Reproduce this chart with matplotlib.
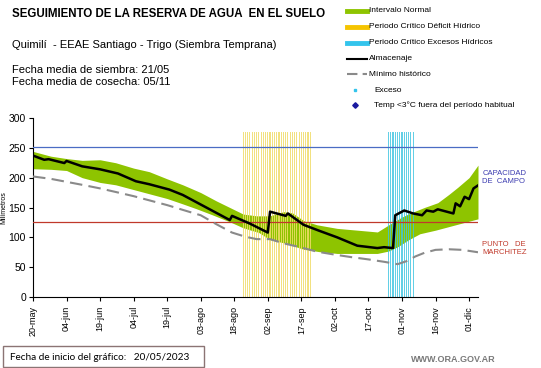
import numpy as np
import pandas as pd
import matplotlib
matplotlib.use("Agg")
import matplotlib.pyplot as plt
from matplotlib.lines import Line2D
from matplotlib.patches import Rectangle

plt.rcParams['font.family'] = ['Liberation Sans', 'DejaVu Sans']

start = pd.Timestamp("2023-05-20")

# almacenaje (dias desde el inicio, mm)
alm_day = [0, 5, 7, 14, 15, 22, 30, 38, 46, 52, 61, 67, 75, 81, 88, 89, 97, 105, 106,
           113, 114, 121, 128, 136, 145, 154, 157, 161, 162, 166, 170, 174, 176, 179,
           181, 188, 189, 191, 193, 195, 197, 199]
alm_val = [237, 230, 231, 224.5, 228, 219, 214, 207, 194, 189, 180, 171, 155, 143, 129, 136,
           123, 108, 143, 136, 140, 121, 111, 100, 86, 82, 83.5, 82, 137, 145, 140, 137, 145,
           143, 147, 140, 157, 152, 168, 164, 182, 187]

# intervalo normal - limite superior
sup_day = [0, 8, 15, 22, 30, 37, 45, 52, 60, 67, 75, 82, 88, 94, 100, 106, 112, 116, 121,
           127, 136, 145, 154, 160, 165, 169, 175, 181, 186, 190, 195, 199]
sup_val = [244, 236, 232, 229, 230, 225, 216, 210, 198, 188, 175, 161, 150, 139, 136, 136,
           143, 141, 128, 121, 115, 112, 109, 123, 134, 141, 150, 158, 172, 184, 200, 221]

# intervalo normal - limite inferior
inf_day = [0, 8, 15, 22, 30, 37, 45, 52, 60, 67, 73, 80, 88, 94, 101, 106, 113, 121, 128,
           136, 145, 154, 159, 163, 168, 173, 180, 186, 192, 199]
inf_val = [215, 214, 212, 200, 192, 188, 180, 173, 165, 156, 148, 138, 126, 116, 108, 96,
           90, 80, 76, 73, 73, 73, 77, 84, 96, 106, 112, 118, 124, 131]

# minimo historico
min_day = [0, 8, 15, 22, 30, 37, 45, 52, 60, 67, 75, 82, 89, 95, 100, 106, 112, 120, 127,
           135, 142, 150, 157, 163, 167, 171, 175, 180, 186, 192, 199]
min_val = [202, 198, 193, 188, 182, 176, 169, 162, 154, 146, 137, 122, 108, 101, 97, 97,
           90, 83, 76, 71, 67, 63, 59, 55, 60, 68, 74, 79, 80, 79, 75]

deficit_ini, deficit_fin = "2023-08-22", "2023-09-21"
exceso_ini, exceso_fin = "2023-10-26", "2023-11-06"
altura_periodo = 277

capacidad_campo = 252
punto_marchitez = 125

tick_labels = ["20-may", "04-jun", "19-jun", "04-jul", "19-jul", "03-ago", "18-ago",
               "02-sep", "17-sep", "02-oct", "17-oct", "01-nov", "16-nov", "01-dic"]


def to_dates(days):
    return start + pd.to_timedelta(days, unit="D")


green = "#8ec400"
yellow = "#f0dc6a"
cyan = "#3cc4e0"

fig = plt.figure(figsize=(5.41, 3.68), dpi=100)
ax = fig.add_axes([33 / 541, 1 - 297 / 368, (478 - 33) / 541, (297 - 118) / 368])

# banda normal (se interpola sobre una grilla diaria solo para rellenar)
grid = np.arange(0, 200)
ax.fill_between(to_dates(grid), np.interp(grid, inf_day, inf_val),
                np.interp(grid, sup_day, sup_val), color=green, lw=0, zorder=1)

# periodos criticos: una barra fina por dia
d_def = pd.date_range(deficit_ini, deficit_fin, freq="D")
ax.bar(d_def, [altura_periodo] * len(d_def), width=0.5, color=yellow, alpha=0.85, lw=0,
       zorder=2)
d_exc = pd.date_range(exceso_ini, exceso_fin, freq="D")
ax.bar(d_exc, [altura_periodo] * len(d_exc), width=0.5, color=cyan, alpha=0.8, lw=0,
       zorder=2)

ax.axhline(capacidad_campo, color="#4a6cc4", lw=0.9, zorder=3)
ax.axhline(punto_marchitez, color="#c0392b", lw=0.9, zorder=3)

ax.plot(to_dates(min_day), min_val, color="#8a8a8a", lw=1.5, dashes=(6, 3), zorder=4)
ax.plot(to_dates(alm_day), alm_val, color="black", lw=1.8, zorder=5)

ax.set_xlim(start, start + pd.Timedelta(days=199))
ax.set_ylim(0, 300)
ax.set_yticks(range(0, 301, 50))
ax.set_xticks(to_dates(np.arange(0, 196, 15)))
ax.set_xticklabels(tick_labels, rotation=90, fontsize=6.5)
ax.tick_params(axis="y", labelsize=7.5, length=3, pad=2)
ax.tick_params(axis="x", length=3)
for s in ["top", "right"]:
    ax.spines[s].set_visible(False)
ax.set_ylabel("Milímetros", fontsize=5)
ax.yaxis.set_label_coords(-0.058, 0.5)

ax.text(1.01, 0.667, "CAPACIDAD\nDE  CAMPO", transform=ax.transAxes, color="#3b3bb0",
        fontsize=5.5, va="center", linespacing=1.1)
ax.text(1.01, 0.27, "PUNTO   DE\nMARCHITEZ", transform=ax.transAxes, color="#c0392b",
        fontsize=5.5, va="center", linespacing=1.1)

# textos de cabecera
def px(x, y):
    return x / 541, 1 - y / 368

fig.text(*px(12, 14), "SEGUIMIENTO DE LA RESERVA DE AGUA  EN EL SUELO", fontsize=8.3,
         fontweight="bold", va="center")
fig.text(*px(12, 45), "Quimilí  - EEAE Santiago - Trigo (Siembra Temprana)", fontsize=8,
         va="center")
fig.text(*px(12, 70), "Fecha media de siembra: 21/05", fontsize=8, va="center")
fig.text(*px(12, 82), "Fecha media de cosecha: 05/11", fontsize=8, va="center")

# leyenda manual
leg_rows = [10.7, 27, 43, 58.7, 74, 90, 105]
leg_txt = ["Intervalo Normal", "Periodo Crítico Déficit Hídrico",
           "Periodo Crítico Excesos Hídricos", "Almacenaje", "Mínimo histórico",
           "Exceso", "Temp <3°C fuera del período habitual"]
for y, t in zip(leg_rows, leg_txt):
    fig.text(*px(369 if y < 80 else 374, y), t, fontsize=6, va="center")
for y, c in zip(leg_rows[:3], [green, "#f5c400", "#33c4ec"]):
    fig.add_artist(Line2D([347 / 541, 367 / 541], [1 - y / 368] * 2, color=c, lw=3.5,
                          transform=fig.transFigure))
fig.add_artist(Line2D([347 / 541, 367 / 541], [1 - 58.7 / 368] * 2, color="black", lw=1.5,
                      transform=fig.transFigure))
fig.add_artist(Line2D([347 / 541, 367 / 541], [1 - 74 / 368] * 2, color="#8a8a8a", lw=1.5,
                      dashes=(5, 2.5), transform=fig.transFigure))
fig.add_artist(Line2D([355 / 541], [1 - 90 / 368], marker="s", ms=2, color="#33c4ec",
                      lw=0, transform=fig.transFigure))
fig.add_artist(Line2D([355 / 541], [1 - 105 / 368], marker="D", ms=2.8, color="#1a1aa0",
                      lw=0, transform=fig.transFigure))

# pie
fig.add_artist(Rectangle((3 / 541, 1 - 367 / 368), 201 / 541, 21 / 368, fill=False,
                         edgecolor="#8b7474", lw=1, transform=fig.transFigure))
fig.text(*px(10, 357), "Fecha de inicio del gráfico:   20/05/2023", fontsize=7.2,
         family=["Lato", "DejaVu Sans"], va="center")
fig.text(*px(411, 360), "WWW.ORA.GOV.AR", fontsize=6.5, fontweight="bold",
         color="#7a7a7a", va="center")

fig.savefig("out.png", dpi=100)
